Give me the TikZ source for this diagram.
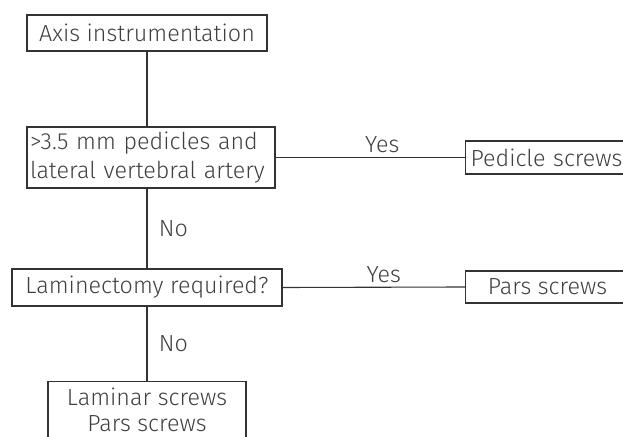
\documentclass[tikz,border=0pt]{standalone}
\usepackage{fontspec}
\setmainfont{Fira Sans Light}
\usepackage{tikz}

\definecolor{inkline}{HTML}{333333}
\definecolor{inktext}{HTML}{404040}

\begin{document}
\begin{tikzpicture}[x=1pt,y=1pt,line width=1.1pt]
    \tikzstyle{box}=[draw=inkline,text=inktext,inner sep=0pt,font=\fontsize{23.3}{29}\selectfont]
    \tikzstyle{lbl}=[text=inktext,font=\fontsize{23.3}{28}\selectfont]
    \useasboundingbox (0,0) rectangle (623,436);
      \node[box,minimum width=240,minimum height=36] (axis) at (147,403) {Axis instrumentation};
      \node[box,minimum width=248,minimum height=61,align=left,text width=242] (cond1) at (151,278.5) {>3.5 mm pedicles and\\lateral vertebral artery};
      \node[box,minimum width=170,minimum height=33,anchor=west,text width=160,align=left] (pedicle) at (465,278.5) {Pedicle screws};
      \node[box,minimum width=270,minimum height=37] (lamin) at (147,148.5) {Laminectomy required?};
      \node[box,minimum width=164,minimum height=32,anchor=west] (pars) at (465,149) {Pars screws};
      \node[box,minimum width=198,minimum height=56,anchor=north,align=center,font=\fontsize{23.3}{26}\selectfont] (lampars) at (147,55) {Laminar screws\\Pars screws};
      \draw[inkline] (axis.south) -- (axis.south |- cond1.north);
      \draw[inkline] (cond1.east) -- node[lbl,midway,above=1pt,xshift=12pt] {Yes} (pedicle.west);
      \draw[inkline] (axis.south |- cond1.south) -- node[lbl,midway,right=8pt] {No} (lamin.north);
      \draw[inkline] (lamin.east) -- node[lbl,midway,above=1pt,xshift=10pt] {Yes} (pars.west);
      \draw[inkline] (lamin.south) -- node[lbl,midway,right=8pt] {No} (lampars.north);
    \end{tikzpicture}
\end{document}
